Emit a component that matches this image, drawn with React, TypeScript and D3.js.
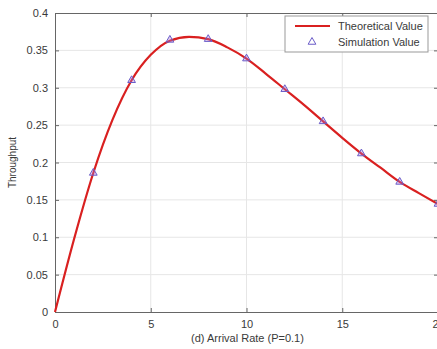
import React, { useEffect, useRef } from 'react';
import * as d3 from 'd3';

// theoretical curve at each integer arrival rate
const rateTheory = [0, 1, 2, 3, 4, 5, 6, 7, 8, 9, 10, 11, 12, 13, 14, 15, 16, 17, 18, 19, 20];
const throughputTheory = [0, 0.098, 0.186, 0.257, 0.310, 0.344, 0.363, 0.368, 0.365, 0.354, 0.339, 0.319, 0.298, 0.277, 0.255, 0.233, 0.212, 0.193, 0.174, 0.159, 0.1445];

// simulation points (triangles)
const rateSim = [2, 4, 6, 8, 10, 12, 14, 16, 18, 20];
const throughputSim = [0.186, 0.310, 0.364, 0.365, 0.339, 0.298, 0.255, 0.212, 0.174, 0.1445];

const xTicks = [0, 5, 10, 15, 20];
const yTicks = [0, 0.05, 0.1, 0.15, 0.2, 0.25, 0.3, 0.35, 0.4];

const legendLabels = ['Theoretical Value', 'Simulation Value'];

const App = () => {
  const svgRef = useRef<SVGSVGElement>(null);
  const width = 437;
  const height = 349;

  useEffect(() => {
    if (!svgRef.current) return;
    const margin = { top: 13, right: -1, bottom: 37, left: 55 };
    const innerWidth = width - margin.left - margin.right;
    const innerHeight = height - margin.top - margin.bottom;

    const svg = d3.select(svgRef.current);
    svg.selectAll('*').remove();

    const font = '"Liberation Sans", Arial, sans-serif';
    const textColor = '#3a3a3a';

    const x = d3.scaleLinear().domain([0, 20]).range([0, innerWidth]);
    const y = d3.scaleLinear().domain([0, 0.4]).range([innerHeight, 0]);

    svg.append('rect').attr('width', width).attr('height', height).style('fill', '#fff');

    const g = svg.append('g').attr('transform', `translate(${margin.left}, ${margin.top})`);

    // grid
    g.append('g')
      .selectAll('line')
      .data(xTicks.slice(1, -1))
      .enter().append('line')
      .attr('x1', d => x(d)).attr('x2', d => x(d))
      .attr('y1', 0).attr('y2', innerHeight)
      .style('stroke', '#e6e6e6').style('stroke-width', 1);

    g.append('g')
      .selectAll('line')
      .data(yTicks.slice(1, -1))
      .enter().append('line')
      .attr('x1', 0).attr('x2', innerWidth)
      .attr('y1', d => y(d)).attr('y2', d => y(d))
      .style('stroke', '#e6e6e6').style('stroke-width', 1);

    // axes, MATLAB style: ticks pointing in on all four sides
    const axisStyle = (sel: any) => {
      sel.select('.domain').style('stroke', '#666');
      sel.selectAll('.tick line').style('stroke', '#666');
      sel.selectAll('.tick text')
        .style('font-family', font)
        .style('font-size', '11px')
        .style('fill', textColor);
    };

    g.append('g')
      .attr('transform', `translate(0, ${innerHeight})`)
      .call(d3.axisBottom(x).tickValues(xTicks).tickSize(-4).tickPadding(8).tickSizeOuter(0).tickFormat(d3.format('d')))
      .call(axisStyle);

    g.append('g')
      .call(d3.axisTop(x).tickValues(xTicks).tickSize(-4).tickSizeOuter(0).tickFormat(() => ''))
      .call(axisStyle);

    g.append('g')
      .call(d3.axisLeft(y).tickValues(yTicks).tickSize(-4).tickPadding(7).tickSizeOuter(0).tickFormat(d => String(+d)))
      .call(axisStyle);

    g.append('g')
      .attr('transform', `translate(${innerWidth}, 0)`)
      .call(d3.axisRight(y).tickValues(yTicks).tickSize(-4).tickSizeOuter(0).tickFormat(() => ''))
      .call(axisStyle);

    // theoretical curve
    const line = d3.line<number>()
      .x((d, i) => x(rateTheory[i]))
      .y(d => y(d))
      .curve(d3.curveMonotoneX);

    g.append('path')
      .datum(throughputTheory)
      .attr('d', line)
      .style('fill', 'none')
      .style('stroke', '#d92020')
      .style('stroke-width', 2.2);

    // simulation triangles
    const tri = d3.symbol().type(d3.symbolTriangle).size(26);
    g.append('g')
      .selectAll('path')
      .data(throughputSim)
      .enter().append('path')
      .attr('d', tri)
      .attr('transform', (d, i) => `translate(${x(rateSim[i])}, ${y(d)})`)
      .style('fill', 'rgba(170, 120, 220, 0.35)')
      .style('stroke', '#6a5cc8')
      .style('stroke-width', 1);

    // axis titles
    g.append('text')
      .attr('x', innerWidth / 2 + 1)
      .attr('y', innerHeight + 30)
      .attr('text-anchor', 'middle')
      .style('font-family', font)
      .style('font-size', '11px')
      .style('fill', textColor)
      .text('(d) Arrival Rate (P=0.1)');

    g.append('text')
      .attr('transform', 'rotate(-90)')
      .attr('x', -innerHeight / 2)
      .attr('y', -39)
      .attr('text-anchor', 'middle')
      .style('font-family', font)
      .style('font-size', '10px')
      .style('fill', textColor)
      .text('Throughput');

    // legend
    const legend = svg.append('g').attr('transform', 'translate(285, 16)');
    legend.append('rect')
      .attr('width', 143).attr('height', 36)
      .style('fill', '#fff').style('stroke', '#999').style('stroke-width', 1);

    legend.append('line')
      .attr('x1', 10).attr('x2', 45).attr('y1', 10).attr('y2', 10)
      .style('stroke', '#d92020').style('stroke-width', 2.2);

    legend.append('path')
      .attr('d', tri)
      .attr('transform', 'translate(27, 26)')
      .style('fill', 'none')
      .style('stroke', '#6a5cc8')
      .style('stroke-width', 1);

    legendLabels.forEach((label, i) => {
      legend.append('text')
        .attr('x', 53)
        .attr('y', 10 + i * 16)
        .attr('dy', '0.35em')
        .style('font-family', font)
        .style('font-size', '11px')
        .style('fill', textColor)
        .text(label);
    });
  }, []);

  return (
    <svg
      ref={svgRef}
      width={width}
      height={height}
      style={{ position: 'absolute', left: 0, top: 0, display: 'block' }}
    />
  );
};

export default App;
